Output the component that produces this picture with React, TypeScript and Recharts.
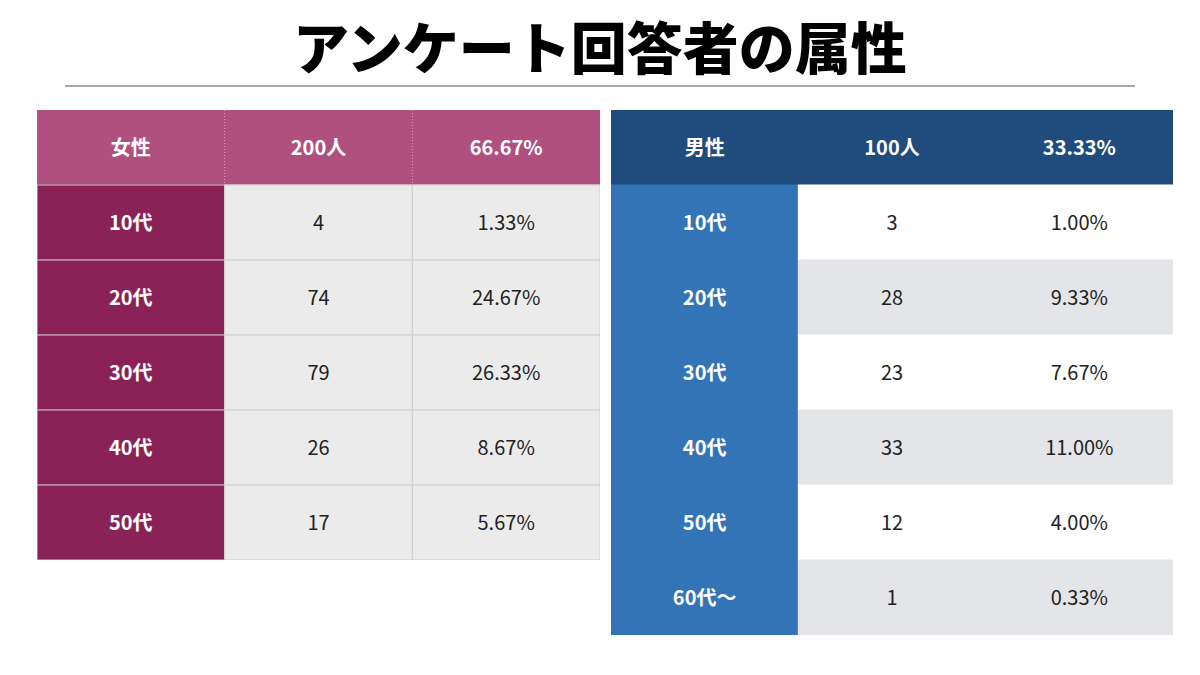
import React from "react";
import { BarChart, Bar, XAxis, YAxis } from "recharts";

const FONT = '"Noto Sans CJK JP", "Noto Sans", sans-serif';

const femaleHeader = ["女性", "200人", "66.67%"];
const femaleAges = ["10代", "20代", "30代", "40代", "50代"];
const femaleCounts = [4, 74, 79, 26, 17];
const femalePcts = ["1.33%", "24.67%", "26.33%", "8.67%", "5.67%"];

const maleHeader = ["男性", "100人", "33.33%"];
const maleAges = ["10代", "20代", "30代", "40代", "50代", "60代〜"];
const maleCounts = [3, 28, 23, 33, 12, 1];
const malePcts = ["1.00%", "9.33%", "7.67%", "11.00%", "4.00%", "0.33%"];

const columns = ["c0", "c1", "c2"];

type Row = { key: string; texts: string[]; c0: number; c1: number; c2: number };

function buildRows(header: string[], ages: string[], counts: number[], pcts: string[]): Row[] {
  const rows: Row[] = [{ key: "h", texts: header, c0: 1, c1: 1, c2: 1 }];
  ages.forEach((a, i) => {
    rows.push({ key: "r" + i, texts: [a, String(counts[i]), pcts[i]], c0: 1, c1: 1, c2: 1 });
  });
  return rows;
}

const femaleRows = buildRows(femaleHeader, femaleAges, femaleCounts, femalePcts);
const maleRows = buildRows(maleHeader, maleAges, maleCounts, malePcts);

type Theme = {
  header: string;
  first: string;
  body: (row: number) => string;
  border: string | null;
  headerSep: string | null;
};

const femaleTheme: Theme = {
  header: "#b0507f",
  first: "#8a2258",
  body: () => "#ebebeb",
  border: "#cccccc",
  headerSep: "#d9a3bd",
};

const maleTheme: Theme = {
  header: "#1f4c7c",
  first: "#3274b6",
  body: (row) => (row % 2 === 1 ? "#ffffff" : "#e4e5e9"),
  border: null,
  headerSep: null,
};

function makeShape(col: number, theme: Theme) {
  return (props: any) => {
    const { x, y, width, height, index, payload } = props;
    const isHeader = index === 0;
    let fill = theme.body(index);
    if (isHeader) fill = theme.header;
    else if (col === 0) fill = theme.first;
    const white = isHeader || col === 0;
    return (
      <g>
        <rect
          x={x - 0.5}
          y={y - 0.5}
          width={width + 1}
          height={height + 1}
          fill={fill}
        />
        {!isHeader && theme.border && (
          <rect
            x={x}
            y={y}
            width={width}
            height={height}
            fill="none"
            stroke={theme.border}
            strokeWidth={1}
          />
        )}
        {isHeader && col > 0 && theme.headerSep && (
          <line
            x1={x}
            x2={x}
            y1={y}
            y2={y + height}
            stroke={theme.headerSep}
            strokeDasharray="1 2"
          />
        )}
        <text
          x={x + width / 2}
          y={y + height / 2}
          dy={-1}
          textAnchor="middle"
          dominantBaseline="central"
          fontFamily={FONT}
          fontSize={20}
          fontWeight={white ? 700 : 400}
          fill={white ? "#ffffff" : "#222222"}
        >
          {payload.texts[col]}
        </text>
      </g>
    );
  };
}

function Table({ rows, theme, width, height }: { rows: Row[]; theme: Theme; width: number; height: number }) {
  return (
    <BarChart
      width={width}
      height={height}
      data={rows}
      layout="vertical"
      margin={{ top: 0, right: 0, bottom: 0, left: 0 }}
      barCategoryGap={0}
    >
      <XAxis type="number" domain={[0, 3]} hide />
      <YAxis type="category" dataKey="key" hide />
      {columns.map((c, i) => (
        <Bar
          key={c}
          dataKey={c}
          stackId="t"
          isAnimationActive={false}
          shape={makeShape(i, theme)}
        />
      ))}
    </BarChart>
  );
}

export default function App() {
  return (
    <div
      style={{
        position: "absolute",
        left: 0,
        top: 0,
        width: 1200,
        height: 675,
        background: "#ffffff",
        overflow: "hidden",
      }}
    >
      <div
        style={{
          position: "absolute",
          left: 0,
          top: 11,
          width: 1200,
          textAlign: "center",
          fontFamily: FONT,
          fontWeight: 900,
          fontSize: 56,
          lineHeight: "68px",
          color: "#000000",
        }}
      >
        アンケート回答者の属性
      </div>
      <div
        style={{
          position: "absolute",
          left: 65,
          top: 85,
          width: 1070,
          height: 2,
          background: "#a8a8a8",
        }}
      />
      <div style={{ position: "absolute", left: 37, top: 110 }}>
        <Table rows={femaleRows} theme={femaleTheme} width={563} height={450} />
      </div>
      <div style={{ position: "absolute", left: 611, top: 110 }}>
        <Table rows={maleRows} theme={maleTheme} width={562} height={525} />
      </div>
    </div>
  );
}
